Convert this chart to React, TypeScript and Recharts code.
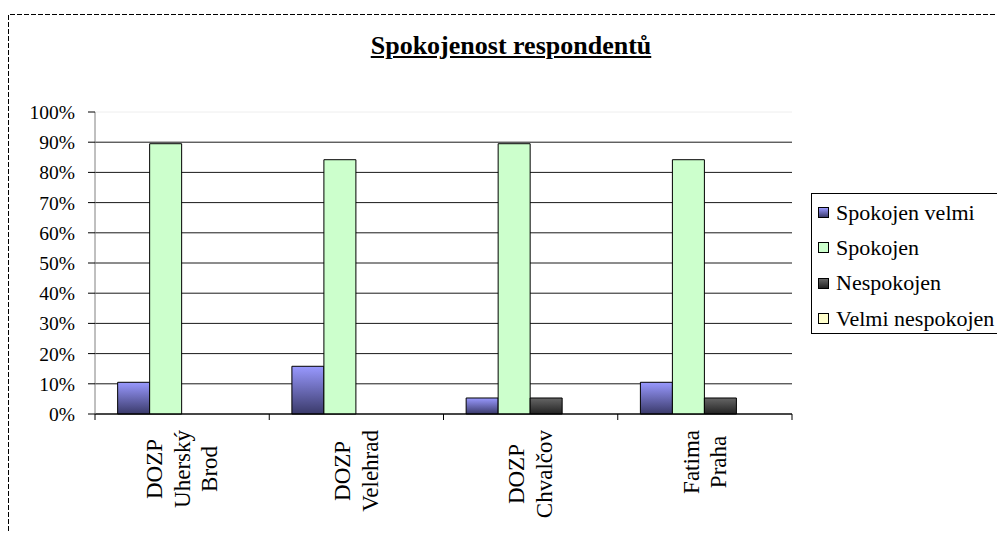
import React from 'react';
import { BarChart, Bar, XAxis, YAxis, CartesianGrid, Legend } from 'recharts';

// Survey data: share of respondents per facility (percent)
const categories = ['DOZP Uherský Brod', 'DOZP Velehrad', 'DOZP Chvalčov', 'Fatima Praha'];
const categoryLines = [['DOZP', 'Uherský', 'Brod'], ['DOZP', 'Velehrad'], ['DOZP', 'Chvalčov'], ['Fatima', 'Praha']];
const spokojenVelmi = [10.5, 15.8, 5.3, 10.5];
const spokojen = [89.5, 84.2, 89.5, 84.2];
const nespokojen = [0, 0, 5.3, 5.3];
const velmiNespokojen = [0, 0, 0, 0];
const seriesNames = ['Spokojen velmi', 'Spokojen', 'Nespokojen', 'Velmi nespokojen'];
const yTicks = [0, 10, 20, 30, 40, 50, 60, 70, 80, 90, 100];
const chartTitle = 'Spokojenost respondentů';

const data = categories.map((name, i) => ({
  name,
  s0: spokojenVelmi[i],
  s1: spokojen[i],
  s2: nespokojen[i],
  s3: velmiNespokojen[i],
}));

// Layout
const W = 997;
const H = 533;
const MARGIN = { top: 112, right: 205, bottom: 0, left: 0 };
const Y_AXIS_W = 95;
const X_AXIS_H = 119;
const PLOT_W = W - MARGIN.left - MARGIN.right - Y_AXIS_W;
const BAND = PLOT_W / categories.length;
const SERIF = '"Liberation Serif", "Times New Roman", serif';
const LABEL_FONT_SIZE = 23;
const LABEL_LINE_H = 27.5;
const LABEL_TOP_GAP = 16;

const swatches = [
  'linear-gradient(#9999ff, #3a3a6a)',
  '#ccffcc',
  'linear-gradient(#666666, #222222)',
  '#ffffcc',
];
const barFills = ['url(#gradBlue)', '#ccffcc', 'url(#gradDark)', '#ffffcc'];

let measureCtx: CanvasRenderingContext2D | null = null;
function textWidth(s: string, font: string): number {
  if (!measureCtx) measureCtx = document.createElement('canvas').getContext('2d');
  if (!measureCtx) return s.length * 10;
  measureCtx.font = font;
  return measureCtx.measureText(s).width;
}

const CategoryTick = (props: any) => {
  const { x, y, index } = props;
  const lines = categoryLines[index] || [];
  const half = BAND / 2;
  const font = `${LABEL_FONT_SIZE}px "Liberation Serif"`;
  const maxLen = Math.max(...lines.map((l) => textWidth(l, font)));
  const cy = y + LABEL_TOP_GAP + maxLen / 2;
  const n = lines.length;
  return (
    <g>
      <line x1={x - half} y1={y} x2={x - half} y2={y + 6} stroke="#000" strokeWidth={1} />
      {index === categories.length - 1 && (
        <line x1={x + half} y1={y} x2={x + half} y2={y + 6} stroke="#000" strokeWidth={1} />
      )}
      {lines.map((line, i) => {
        const cx = x + (i - (n - 1) / 2) * LABEL_LINE_H;
        return (
          <text
            key={i}
            x={0}
            y={0}
            transform={`translate(${cx}, ${cy}) rotate(-90)`}
            textAnchor="middle"
            dominantBaseline="central"
            fontFamily={SERIF}
            fontSize={LABEL_FONT_SIZE}
            fill="#000"
          >
            {line}
          </text>
        );
      })}
    </g>
  );
};

const GridLine = (props: any) => {
  const { x1, x2, y1, y2 } = props;
  const isTop = Math.abs(y1 - MARGIN.top) < 0.5;
  return <line x1={x1} x2={x2} y1={y1} y2={y2} stroke={isTop ? '#eeeeee' : '#1a1a1a'} strokeWidth={1} />;
};

const LegendContent = () => (
  <div
    style={{
      width: 200,
      height: 141,
      boxSizing: 'border-box',
      border: '1px solid #000',
      background: '#fff',
      paddingTop: 1,
      fontFamily: SERIF,
      fontSize: 22,
      color: '#000',
    }}
  >
    {seriesNames.map((name, i) => (
      <div key={name} style={{ height: 35.3, display: 'flex', alignItems: 'center', whiteSpace: 'nowrap' }}>
        <span
          style={{
            display: 'inline-block',
            width: 11,
            height: 11,
            boxSizing: 'border-box',
            border: '1px solid #000',
            background: swatches[i],
            marginLeft: 6,
            marginRight: 7,
          }}
        />
        <span>{name}</span>
      </div>
    ))}
  </div>
);

export default function App() {
  return (
    <div style={{ position: 'fixed', left: 0, top: 0, width: W, height: H, overflow: 'hidden', background: '#fff' }}>
      <svg width={W} height={H} style={{ position: 'absolute', left: 0, top: 0 }}>
        <polyline
          points={`1100,14.5 8.5,14.5 8.5,${H + 10}`}
          fill="none"
          stroke="#000"
          strokeWidth={1}
          strokeDasharray="5 2"
        />
      </svg>
      <div
        style={{
          position: 'absolute',
          left: 0,
          width: 1022,
          top: 33,
          textAlign: 'center',
          fontFamily: SERIF,
          fontWeight: 'bold',
          fontSize: 26,
          lineHeight: '26px',
          textDecoration: 'underline',
          color: '#000',
        }}
      >
        {chartTitle}
      </div>
      <div style={{ position: 'absolute', left: 0, top: 0 }}>
        <BarChart width={W} height={H} data={data} margin={MARGIN} barCategoryGap="13%" barGap={0}>
          <defs>
            <linearGradient id="gradBlue" x1="0" y1="0" x2="0" y2="1">
              <stop offset="0%" stopColor="#9999ff" />
              <stop offset="100%" stopColor="#3a3a6a" />
            </linearGradient>
            <linearGradient id="gradDark" x1="0" y1="0" x2="0" y2="1">
              <stop offset="0%" stopColor="#666666" />
              <stop offset="100%" stopColor="#222222" />
            </linearGradient>
          </defs>
          <CartesianGrid vertical={false} horizontal={(p: any) => <GridLine {...p} />} />
          <XAxis
            dataKey="name"
            height={X_AXIS_H}
            interval={0}
            axisLine={{ stroke: '#000' }}
            tickLine={false}
            tickSize={0}
            tickMargin={0}
            tick={<CategoryTick />}
          />
          <YAxis
            width={Y_AXIS_W}
            domain={[0, 100]}
            ticks={yTicks}
            interval={0}
            tickFormatter={(v: number) => `${v}%`}
            axisLine={{ stroke: '#808080' }}
            tickLine={{ stroke: '#000' }}
            tickSize={7}
            tickMargin={13}
            tick={{ fill: '#000', fontFamily: SERIF, fontSize: 19.5 }}
          />
          <Legend
            layout="vertical"
            align="center"
            verticalAlign="middle"
            wrapperStyle={{ left: 811, top: 193, width: 200, height: 141 }}
            content={<LegendContent />}
          />
          {['s0', 's1', 's2', 's3'].map((key, i) => (
            <Bar
              key={key}
              dataKey={key}
              name={seriesNames[i]}
              fill={barFills[i]}
              stroke="#000"
              strokeWidth={1}
              isAnimationActive={false}
            />
          ))}
        </BarChart>
      </div>
    </div>
  );
}
